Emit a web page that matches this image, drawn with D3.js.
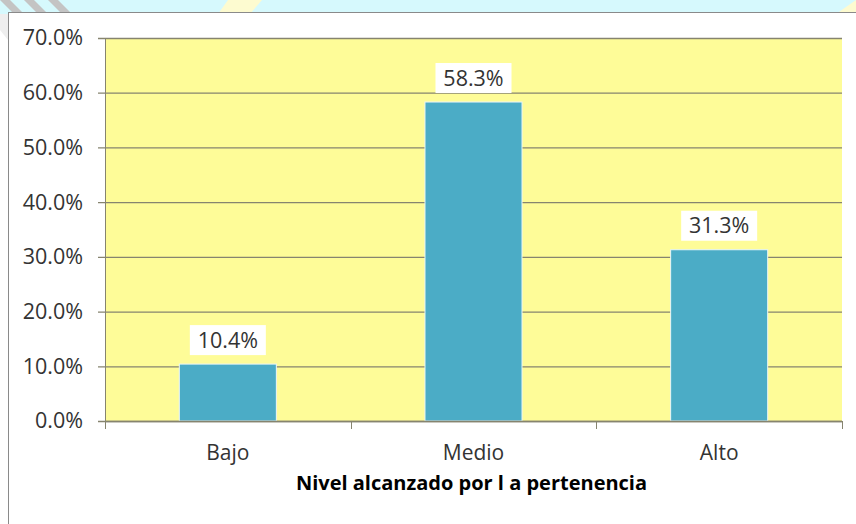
<!DOCTYPE html>
<html>
<head>
<meta charset="utf-8">
<script src="https://cdn.jsdelivr.net/npm/d3@7"></script>
<style>
  html, body { margin: 0; padding: 0; background: #fff; }
  svg { display: block; font-family: "Open Sans", "Noto Sans", sans-serif; }
</style>
</head>
<body>
<svg id="chart" width="856" height="524"></svg>
<script>
const categories = ["Bajo", "Medio", "Alto"];
const values = [0.104, 0.583, 0.313];
const valueLabels = ["10.4%", "58.3%", "31.3%"];
const yTicks = [0, 0.1, 0.2, 0.3, 0.4, 0.5, 0.6, 0.7];
const xTitle = "Nivel alcanzado por l a pertenencia";

(function() {
  const svg = d3.select("#chart");
  const W = 856, H = 524;
  const plot = { left: 105, right: 842, top: 38, bottom: 421 };

  // page backdrop behind the chart frame
  const bg = svg.append("g");
  bg.append("rect").attr("width", W).attr("height", 14).attr("fill", "#d6f9fd");
  bg.append("polygon").attr("points", "228,0 262,0 250,14 218,14").attr("fill", "#fdfbd0");
  bg.append("polygon").attr("points", "836,14 856,0 856,14").attr("fill", "#fdfbd0");
  [0, 24, 48].forEach(x => {
    bg.append("polygon")
      .attr("points", `${x},0 ${x + 10},0 ${x + 24},14 ${x + 14},14`)
      .attr("fill", "#c4c4c4");
  });
  bg.append("polygon").attr("points", "0,14 8,14 8,40 0,30").attr("fill", "#eeeeee");

  // chart frame
  svg.append("rect")
    .attr("x", 8.5).attr("y", 12.5)
    .attr("width", W).attr("height", H)
    .attr("fill", "#fff")
    .attr("stroke", "#8a8a8a");

  const x = d3.scaleBand()
    .domain(categories)
    .range([plot.left, plot.right])
    .paddingInner(0.605)
    .paddingOuter(0.3025);

  const y = d3.scaleLinear()
    .domain([0, 0.7])
    .range([plot.bottom, plot.top]);

  // plot area
  svg.append("rect")
    .attr("x", plot.left).attr("y", plot.top)
    .attr("width", plot.right - plot.left)
    .attr("height", plot.bottom - plot.top)
    .attr("fill", "#fefc98");

  // gridlines + y axis
  const yAxis = d3.axisLeft(y)
    .tickValues(yTicks)
    .tickFormat(d3.format(".1%"))
    .tickSize(-(plot.right - plot.left))
    .tickPadding(22);
  const gy = svg.append("g")
    .attr("transform", `translate(${plot.left},0)`)
    .call(yAxis);
  gy.select(".domain").remove();
  gy.selectAll(".tick line")
    .attr("x1", -7)
    .attr("stroke", "#86846f")
    .attr("stroke-width", 1.3);
  gy.selectAll(".tick text")
    .attr("font-size", 21.5)
    .attr("font-family", "\"Open Sans\", sans-serif")
    .attr("fill", "#333");
  svg.append("line")
    .attr("x1", plot.left + 0.5).attr("x2", plot.left + 0.5)
    .attr("y1", plot.top).attr("y2", plot.bottom)
    .attr("stroke", "#86846f");

  // bars
  svg.append("g").selectAll("rect")
    .data(categories)
    .enter()
    .append("rect")
    .attr("x", d => x(d))
    .attr("y", (d, i) => y(values[i]))
    .attr("width", x.bandwidth())
    .attr("height", (d, i) => y(0) - y(values[i]))
    .attr("fill", "#4bacc6")
    .attr("stroke", "#eaf6f9")
    .attr("stroke-width", 1);

  // x axis
  const step = x.step();
  const xTickPos = d3.range(categories.length + 1).map(i => plot.left + i * step);
  const gx = svg.append("g");
  gx.append("line")
    .attr("x1", plot.left).attr("x2", plot.right)
    .attr("y1", plot.bottom + 0.5).attr("y2", plot.bottom + 0.5)
    .attr("stroke", "#86846f").attr("stroke-width", 1.3);
  gx.selectAll("line.tk")
    .data(xTickPos)
    .enter()
    .append("line")
    .attr("class", "tk")
    .attr("x1", d => Math.round(d) + 0.5).attr("x2", d => Math.round(d) + 0.5)
    .attr("y1", plot.bottom).attr("y2", plot.bottom + 8)
    .attr("stroke", "#86846f");
  gx.selectAll("text")
    .data(categories)
    .enter()
    .append("text")
    .attr("x", d => x(d) + x.bandwidth() / 2)
    .attr("y", 453)
    .attr("dy", "0.35em")
    .attr("text-anchor", "middle")
    .attr("font-size", 21)
    .attr("fill", "#333")
    .text(d => d);

  // axis title
  svg.append("text")
    .attr("x", (plot.left + plot.right) / 2 - 2)
    .attr("y", 483)
    .attr("dy", "0.35em")
    .attr("text-anchor", "middle")
    .attr("font-size", 20)
    .attr("font-weight", "bold")
    .attr("fill", "#000")
    .text(xTitle);

  // data labels with white boxes
  const lab = svg.append("g").selectAll("g")
    .data(categories)
    .enter()
    .append("g")
    .attr("transform", (d, i) => `translate(${x(d) + x.bandwidth() / 2},${y(values[i]) - 24})`);
  lab.append("rect")
    .attr("x", -38).attr("y", -15)
    .attr("width", 76).attr("height", 30)
    .attr("fill", "#fff");
  lab.append("text")
    .attr("text-anchor", "middle")
    .attr("dy", "0.35em")
    .attr("font-size", 21.5)
    .attr("fill", "#333")
    .text((d, i) => valueLabels[i]);
})();
</script>
</body>
</html>
